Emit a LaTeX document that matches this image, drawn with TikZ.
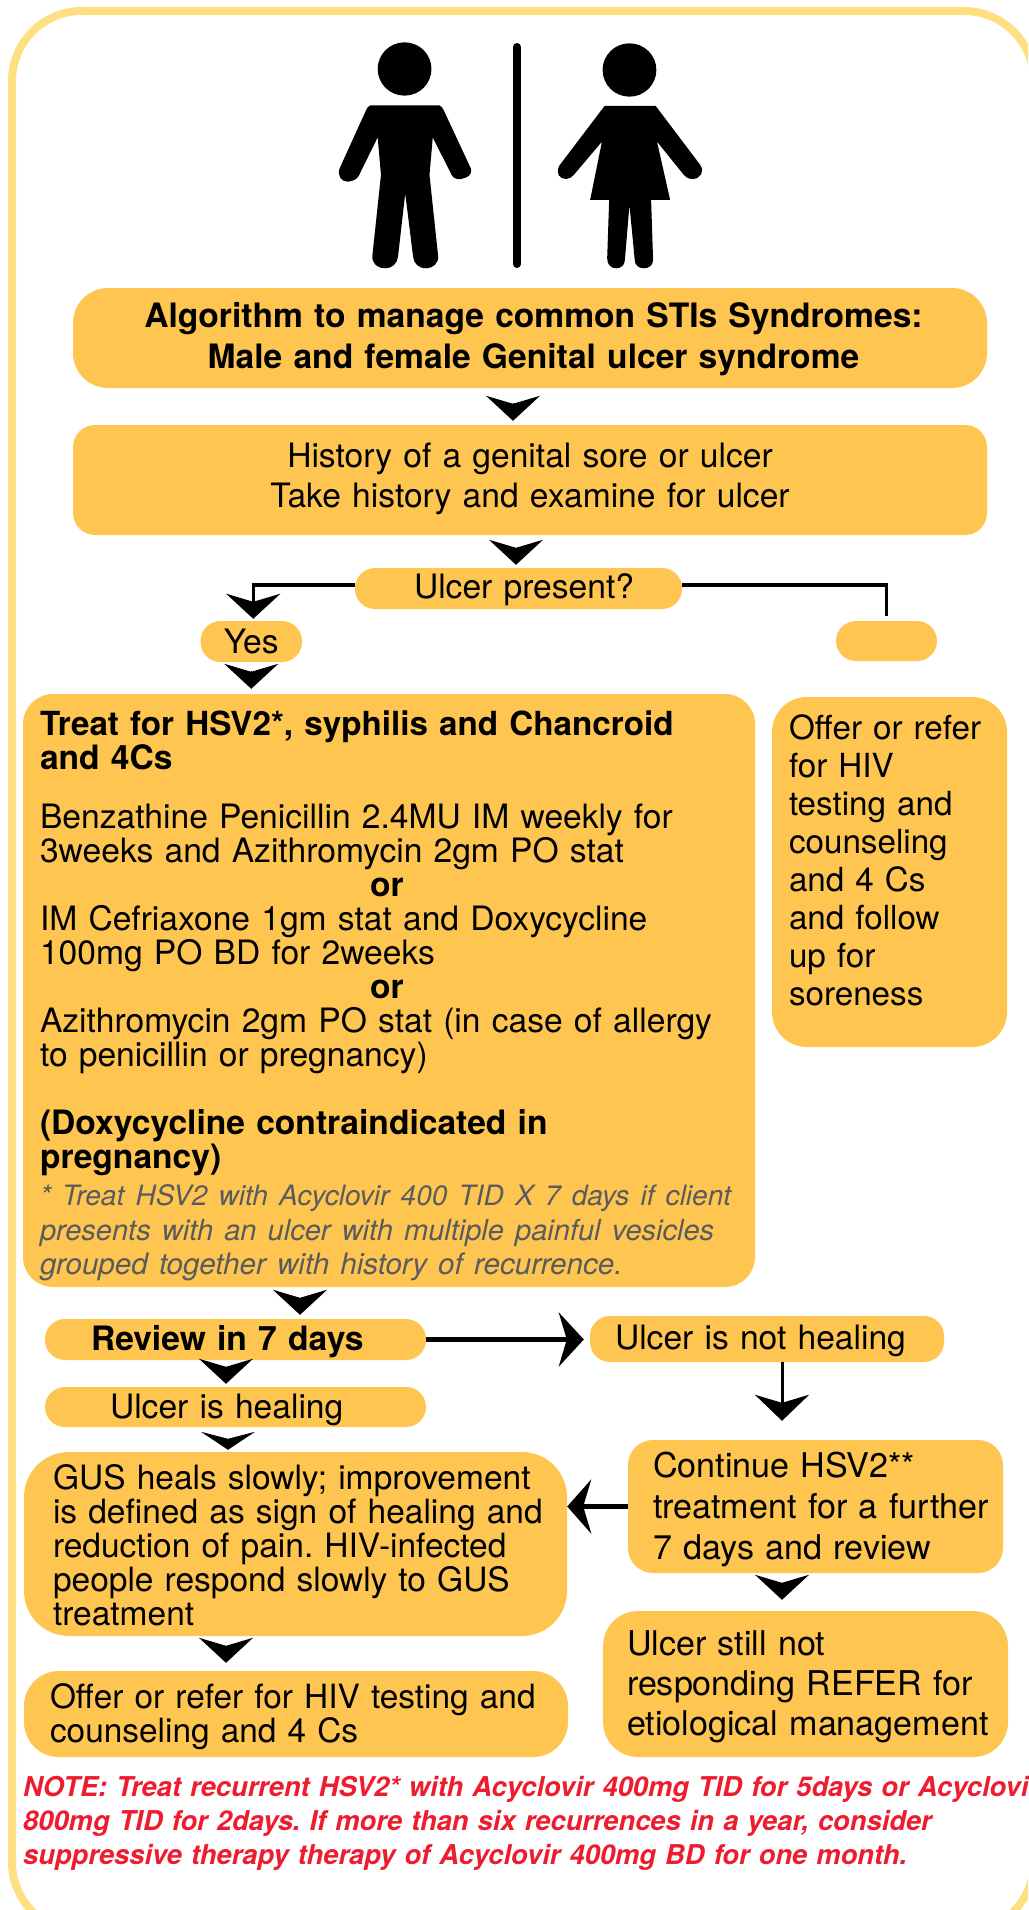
\documentclass[tikz,border=0pt]{standalone}
\usepackage{fontspec}
\setmainfont{TeX Gyre Heros}
\usetikzlibrary{arrows.meta}
\definecolor{boxfill}{HTML}{FEC651}
\definecolor{rim}{HTML}{FEE083}
\definecolor{notered}{HTML}{ED1C2E}
\definecolor{greytext}{HTML}{5A5B5E}
\tikzset{
  box/.style={fill=boxfill,draw=none,inner ysep=0pt,align=left,font=\fontsize{33.6}{40}\selectfont},
  headtip/.style={-{Stealth[length=25pt,width=54pt,inset=8pt]},line width=1pt,black},
  shorttip/.style={-{Stealth[length=18pt,width=54pt,inset=7pt]},line width=1pt,black},
  link/.style={line width=3.5pt,black},
}
% name, x1, y1, x2, y2, inset, radius, extra, text
\newcommand{\bx}[9]{%
  \node[box,rounded corners=#7pt,inner xsep=#6pt,
    minimum width={(#4-#2)*1pt},minimum height={(#5-#3)*1pt},
    text width={(#4-#2-2*#6)*1pt},#8] (#1) at ({(#2+#4)/2},{(#3+#5)/2}) {#9};}
\newcommand{\hgt}[1]{\rule{0pt}{#1pt}}
\newcommand{\dep}[1]{\rule[-#1pt]{0pt}{0pt}}
\begin{document}
\frenchspacing
\begin{tikzpicture}[x=1pt,y=-1pt]
\useasboundingbox (0,0) rectangle (1028,1910);
\clip (0,0) rectangle (1028,1910);
\draw[rim,line width=8pt,rounded corners=70pt] (12,11) rectangle (1034,1932);
% figures, drawn in a 1.525 x 3 grid
\begin{scope}[xscale=0.6557,yscale=0.3333]
\fill[black] (617,207) ellipse [x radius=41,y radius=80];
\fill[black] (960,210) ellipse [x radius=41,y radius=80];
\fill[black] (565,316) -- (670,316) .. controls (674,318) and (675,325) .. (677,332)
  -- (718,505) .. controls (722,530) and (705,540) .. (697,537)
  .. controls (692,535) and (690,530) .. (688,522) -- (660,412) -- (655,525) -- (668,765)
  .. controls (670,790) and (660,805) .. (650,805) .. controls (638,805) and (631,790) .. (630,770)
  -- (618,580) -- (607,770) .. controls (606,790) and (598,805) .. (588,805)
  .. controls (576,805) and (566,790) .. (568,765) -- (581,525) -- (576,412) -- (547,528)
  .. controls (544,540) and (535,545) .. (530,545) .. controls (520,545) and (514,525) .. (518,505)
  -- (558,332) .. controls (560,322) and (562,318) .. (565,316) -- cycle;
\fill[black] (922,318) -- (1000,318) -- (1068,495) .. controls (1075,515) and (1068,537) .. (1056,537)
  .. controls (1050,537) and (1046,532) .. (1043,525) -- (1002,425) -- (1022,600) -- (993,600) -- (996,780)
  .. controls (996,795) and (990,805) .. (982,805) .. controls (974,805) and (968,795) .. (968,780)
  -- (960,615) -- (953,780) .. controls (953,795) and (947,805) .. (940,805)
  .. controls (932,805) and (926,795) .. (926,775) -- (929,600) -- (900,600) -- (918,425) -- (875,525)
  .. controls (872,532) and (868,537) .. (863,537) .. controls (853,537) and (847,520) .. (853,497) -- cycle;
\end{scope}
\draw[black,line width=8pt,line cap=round] (517,47) -- (517,264);
% boxes
\bx{ttl}{73}{288}{987}{388}{10}{35}{align=center,font=\bfseries\fontsize{33.6}{41}\selectfont}{\hgt{28}\hspace*{7pt}Algorithm to manage common STIs Syndromes:\\\hspace*{7pt}Male and female Genital ulcer syndrome}
\bx{hist}{73}{425}{987}{535}{10}{22}{align=center}{History of a genital sore or ulcer\\Take history and examine for ulcer\dep{9}}
\bx{ulc}{355}{568}{682}{609}{10}{20}{align=center}{\hgt{26.5}\hspace*{11pt}Ulcer present?}
\bx{yes}{200.5}{621}{302}{662}{5}{20}{align=center}{Yes}
\bx{no}{836}{621}{937}{661}{5}{20}{}{}
\bx{treat}{23}{694}{755}{1287}{17}{30}{font=\fontsize{33.6}{34}\selectfont}{%
{\bfseries\hgt{34.5}{\fontsize{33.2}{34}\selectfont Treat for HSV2*, syphilis and Chancroid}\\and 4Cs}\\[25pt]
Benzathine Penicillin 2.4MU IM weekly for\\
3weeks and Azithromycin 2gm PO stat\\
\hspace*{330pt}{\bfseries or}\\
IM Cefriaxone 1gm stat and Doxycycline\\
100mg PO BD for 2weeks\\
\hspace*{330pt}{\bfseries or}\\
Azithromycin 2gm PO stat (in case of allergy\\
to penicillin or pregnancy)\\[34pt]
{\bfseries (Doxycycline contraindicated in\\pregnancy)}\\[2pt]
{\color{greytext}\itshape\fontsize{29}{35}\selectfont {\fontsize{28.05}{35}\selectfont * Treat HSV2 with Acyclovir 400 TID X 7 days if client}\\
presents with an ulcer with multiple painful vesicles\\
{\fontsize{29.6}{35}\selectfont grouped together with history of recurrence.}}}
\bx{offr}{772}{697}{1007}{1047}{17}{35}{font=\fontsize{33.2}{38}\selectfont}{Offer or refer\\for HIV\\testing and\\counseling\\and 4 Cs\\and follow\\up for\\soreness\dep{24}}
\bx{rev}{45}{1319}{426}{1360}{46}{20}{font=\bfseries\fontsize{33.6}{40}\selectfont}{\hgt{29.5}Review in 7 days}
\bx{notheal}{590}{1316}{944}{1362}{25}{20}{}{\hgt{28.5}Ulcer is not healing}
\bx{heal}{45}{1387}{426}{1427}{65}{20}{}{\hgt{29.5}Ulcer is healing}
\bx{gus}{24}{1452}{567}{1636}{29}{45}{font=\fontsize{33.5}{34}\selectfont}{\hgt{26.5}GUS heals slowly; improvement\\\mbox{is defined as sign of healing and}\\reduction of pain. HIV-infected\\people respond slowly to GUS\\treatment}
\bx{cont}{628}{1440}{1003}{1573}{25}{25}{font=\fontsize{34.1}{41}\selectfont}{\hgt{31.5}Continue HSV2**\\\mbox{treatment for a further}\\7 days and review}
\bx{still}{603}{1611}{1008}{1757}{24}{35}{font=\fontsize{34.1}{40}\selectfont}{\hgt{30.5}Ulcer still not\\responding REFER for\\\mbox{etiological management}}
\bx{offb}{24}{1671}{568}{1757}{26}{35}{font=\fontsize{33.4}{34}\selectfont}{\hgt{29.5}Offer or refer for HIV testing and\\counseling and 4 Cs}
\node[anchor=north west,inner sep=0pt,text width=1100pt,align=left,text=notered,font=\bfseries\itshape\fontsize{27.3}{34}\selectfont] (note) at (23,1776) {NOTE: Treat recurrent HSV2* with Acyclovir 400mg TID for 5days or Acyclovir\\800mg TID for 2days. If more than six recurrences in a year, consider\\suppressive therapy therapy of Acyclovir 400mg BD for one month.};
% connectors
\draw[headtip,shorten <=15pt,shorten >=4pt] ([xshift=-17pt]ttl.south) -- ([xshift=-17pt]hist.north);
\draw[headtip,shorten <=13pt,shorten >=3pt] ([xshift=-14pt]hist.south) -- ([xshift=-14pt]hist.south |- ulc.north);
\draw[headtip,shorten <=9pt,shorten >=5pt] (yes.south) -- (yes.south |- treat.north);
\draw[link,-{Stealth[length=25pt,width=54pt,inset=8pt]},shorten >=2pt] (ulc.west |- 0,585) -| ([xshift=2pt]yes.north);
\draw[link] (ulc.east |- 0,585) -- (no.north |- 0,585) -- ([yshift=5pt]no.north);
\draw[headtip,shorten <=11pt,shorten >=4pt] ([xshift=-89pt]treat.south) -- ([xshift=-89pt]treat.south |- rev.north);
\draw[headtip,shorten <=7pt,shorten >=3pt] ([xshift=-9.5pt]rev.south) -- ([xshift=-9.5pt]heal.north);
\draw[shorttip,shorten <=12pt,shorten >=2pt] ([xshift=-7.5pt]heal.south) -- ([xshift=-7.5pt]heal.south |- gus.north);
\draw[headtip,shorten <=10pt,shorten >=8pt] ([xshift=-69.5pt]gus.south) -- ([xshift=-69.5pt]gus.south |- offb.north);
\draw[headtip,shorten <=10pt,shorten >=11pt] ([xshift=-33.5pt]cont.south) -- ([xshift=-33.5pt]cont.south |- still.north);
\draw[line width=4.5pt,black,-{Stealth[length=25pt,width=54pt,inset=8pt]},shorten >=6pt] (rev.east) -- (notheal.west |- rev.east);
\draw[line width=3pt,black,-{Stealth[length=26pt,width=54pt,inset=8pt]},shorten >=19pt] ([xshift=15pt]notheal.south) -- ([xshift=15pt]notheal.south |- cont.north);
\draw[line width=4.5pt,black,-{Stealth[length=24pt,width=54pt,inset=8pt]}] (cont.west) -- (gus.east |- cont.west);
\end{tikzpicture}
\end{document}
